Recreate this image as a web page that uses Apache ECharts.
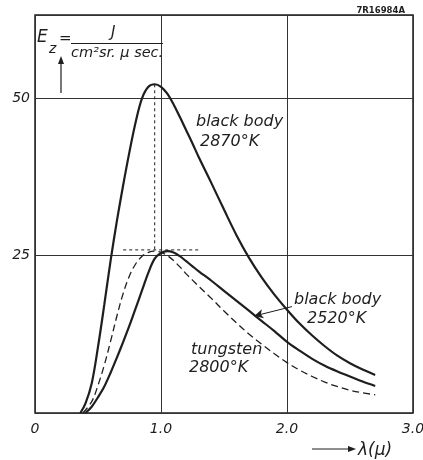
<!DOCTYPE html>
<html>
<head>
<meta charset="utf-8">
<script src="https://cdn.jsdelivr.net/npm/echarts@6/dist/echarts.min.js"></script>
<style>
  html, body { margin: 0; padding: 0; background: #fff; }
  #main { width: 423px; height: 460px; }
</style>
</head>
<body>
<div id="main"></div>
<script>
// wavelength (micron) and intensity
var bb2870Lambda = [0.36, 0.40, 0.45, 0.50, 0.55, 0.60, 0.65, 0.70, 0.75, 0.80, 0.85, 0.90, 0.95, 1.00, 1.05, 1.10, 1.15, 1.20, 1.25, 1.30, 1.40, 1.50, 1.60, 1.70, 1.80, 1.90, 2.00, 2.10, 2.20, 2.30, 2.40, 2.50, 2.60, 2.70];
var bb2870Value  = [0, 1.5, 4.7, 10.5, 17.2, 24.2, 30.5, 36.2, 41.5, 46.3, 50.0, 51.8, 52.2, 51.8, 50.7, 49.0, 47.0, 44.9, 42.8, 40.6, 36.5, 32.3, 28.2, 24.6, 21.5, 18.8, 16.4, 14.2, 12.3, 10.6, 9.1, 7.9, 6.9, 6.05];

var bb2520Lambda = [0.40, 0.45, 0.50, 0.55, 0.60, 0.65, 0.70, 0.75, 0.80, 0.85, 0.90, 0.95, 1.00, 1.05, 1.10, 1.15, 1.20, 1.25, 1.30, 1.40, 1.50, 1.60, 1.70, 1.80, 1.90, 2.00, 2.10, 2.20, 2.30, 2.40, 2.50, 2.60, 2.70];
var bb2520Value  = [0, 1.0, 2.5, 4.2, 6.4, 8.8, 11.3, 13.9, 16.7, 19.5, 22.3, 24.5, 25.4, 25.7, 25.5, 24.9, 24.1, 23.3, 22.5, 21.0, 19.4, 17.8, 16.2, 14.6, 13.0, 11.3, 9.9, 8.6, 7.5, 6.6, 5.8, 5.0, 4.3];

var tungLambda = [0.38, 0.45, 0.50, 0.55, 0.60, 0.65, 0.70, 0.75, 0.80, 0.85, 0.90, 0.95, 1.00, 1.05, 1.10, 1.15, 1.20, 1.25, 1.30, 1.40, 1.50, 1.60, 1.70, 1.80, 1.90, 2.00, 2.10, 2.20, 2.30, 2.40, 2.50, 2.60, 2.70];
var tungValue  = [0, 1.8, 4.4, 7.6, 11.4, 15.4, 19.0, 21.8, 23.7, 24.9, 25.5, 25.7, 25.5, 25.0, 24.2, 23.2, 22.1, 21.1, 20.1, 18.2, 16.2, 14.3, 12.5, 10.9, 9.4, 8.0, 6.8, 5.8, 4.9, 4.2, 3.6, 3.2, 2.9];

// dashed guides at the peaks
var peakGuideV = [[0.95, 52.2], [0.95, 25.9]];
var peakGuideH = [[0.70, 25.9], [1.31, 25.9]];

// leader arrow for the 2520 K label
var arrow2520 = [[2.04, 16.9], [1.74, 15.4]];

var xTicks = ['0', '1.0', '2.0', '3.0'];
var yTicks = [0, 25, 50];

function pairs(xs, ys) {
  return xs.map(function (x, i) { return [x, ys[i]]; });
}

var ink = '#1e1e1e';
var font = 'DejaVu Sans';

var chart = echarts.init(document.getElementById('main'), null, { renderer: 'canvas', width: 423, height: 460 });

var curve = function (name, data, dashed) {
  return {
    name: name,
    type: 'line',
    data: data,
    smooth: 0.35,
    symbol: 'none',
    lineStyle: {
      color: ink,
      width: dashed ? 1.3 : 2.2,
      type: dashed ? [7, 4] : 'solid'
    },
    z: 3
  };
};

var guide = function (data) {
  return {
    type: 'line',
    data: data,
    symbol: 'none',
    lineStyle: { color: ink, width: 1, type: [3, 3] },
    z: 2
  };
};

var txt = function (x, y, s, size, extra) {
  var style = {
    text: s,
    x: x,
    y: y,
    fill: ink,
    font: 'italic ' + size + 'px "' + font + '"',
    textVerticalAlign: 'middle'
  };
  for (var k in extra) style[k] = extra[k];
  return { type: 'text', style: style, z: 10 };
};

var s2520 = curve('bb2520', pairs(bb2520Lambda, bb2520Value), false);
s2520.markLine = {
  silent: true,
  symbol: ['none', 'arrow'],
  symbolSize: [7, 9],
  label: { show: false },
  lineStyle: { color: ink, width: 1, type: 'solid' },
  data: [[{ coord: arrow2520[0] }, { coord: arrow2520[1] }]]
};

chart.setOption({
  animation: false,
  backgroundColor: '#fff',
  grid: {
    left: 35, right: 10, top: 15, bottom: 47,
    show: true, borderColor: ink, borderWidth: 1.5,
    containLabel: false,
    outerBoundsMode: 'none'
  },
  xAxis: {
    type: 'value',
    min: 0, max: 3, interval: 1,
    axisLine: { show: false },
    axisTick: { show: false },
    splitLine: { show: true, lineStyle: { color: '#333', width: 1 } },
    axisLabel: {
      margin: 9,
      color: ink,
      fontFamily: font,
      fontStyle: 'italic',
      fontSize: 14,
      formatter: function (v) { return xTicks[Math.round(v)]; }
    }
  },
  yAxis: {
    type: 'value',
    min: 0, max: 63.2, interval: 25,
    axisLine: { show: false },
    axisTick: { show: false },
    splitLine: { show: true, lineStyle: { color: '#333', width: 1 } },
    axisLabel: {
      margin: 5,
      color: ink,
      fontFamily: font,
      fontStyle: 'italic',
      fontSize: 14,
      formatter: function (v) { return v === 0 || yTicks.indexOf(v) < 0 ? '' : String(v); }
    }
  },
  series: [
    curve('bb2870', pairs(bb2870Lambda, bb2870Value), false),
    s2520,
    curve('tungsten', pairs(tungLambda, tungValue), true),
    guide(peakGuideV),
    guide(peakGuideH)
  ],
  graphic: [
    // plate number
    { type: 'text', z: 10, style: { text: '7R16984A', x: 405, y: 11, fill: ink,
      font: 'bold 8.5px "' + font + '"', textAlign: 'right', textVerticalAlign: 'middle' } },
    // unit formula
    txt(37, 38, 'E', 17),
    txt(49, 49, 'z', 14),
    txt(59, 39, '=', 15),
    txt(111, 33, 'J', 15),
    { type: 'line', z: 10, shape: { x1: 71, y1: 43.5, x2: 163, y2: 43.5 }, style: { stroke: ink, lineWidth: 1.2 } },
    txt(71, 53, 'cm²sr. μ sec.', 14.5),
    // y arrow
    { type: 'line', z: 10, shape: { x1: 61, y1: 93, x2: 61, y2: 61 }, style: { stroke: ink, lineWidth: 1.2 } },
    { type: 'polygon', z: 10, shape: { points: [[61, 56], [58, 64], [64, 64]] }, style: { fill: ink } },
    // x arrow and label
    { type: 'line', z: 10, shape: { x1: 312, y1: 449, x2: 350, y2: 449 }, style: { stroke: ink, lineWidth: 1.2 } },
    { type: 'polygon', z: 10, shape: { points: [[356, 449], [348, 446], [348, 452]] }, style: { fill: ink } },
    txt(358, 451, 'λ(μ)', 17),
    // curve labels
    txt(196, 122, 'black body', 16),
    txt(200, 142, '2870°K', 16),
    txt(294, 300, 'black body', 16),
    txt(307, 319, '2520°K', 16),
    txt(191, 350, 'tungsten', 16),
    txt(189, 368, '2800°K', 16)
  ]
});
</script>
</body>
</html>
